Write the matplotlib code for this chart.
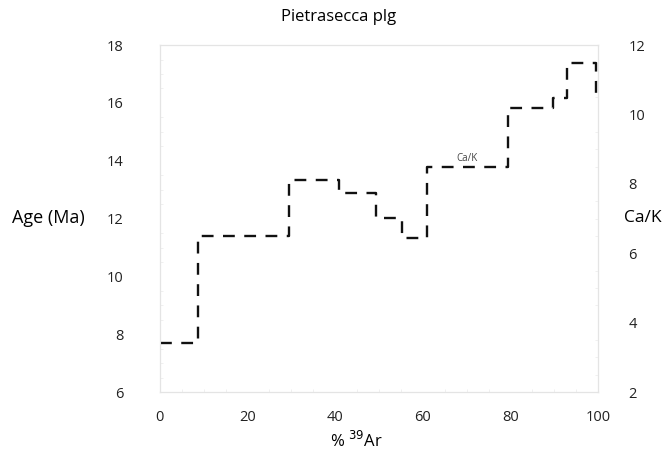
import matplotlib
matplotlib.use("Agg")
import matplotlib.pyplot as plt
from matplotlib.ticker import MultipleLocator

# Step edges (% 39Ar released, cumulative) and Ca/K values per step
ar39_edges = [0, 8.7, 29.5, 40.9, 49.3, 55.3, 61.0, 79.5, 89.7, 92.9, 99.5, 100]
cak_values = [3.41, 6.5, 8.11, 7.73, 7.01, 6.44, 8.48, 10.18, 10.47, 11.48, 10.6]

x_ticks = [0, 20, 40, 60, 80, 100]
age_ticks = [6, 8, 10, 12, 14, 16, 18]
cak_ticks = [2, 4, 6, 8, 10, 12]

plt.rcParams['font.family'] = ['Open Sans', 'DejaVu Sans']

fig = plt.figure(figsize=(6.66, 4.55), dpi=100)
ax = fig.add_axes([0.240, 0.138, 0.658, 0.763])
ax2 = ax.twinx()

ax.set_xlim(0, 100)
ax.set_ylim(6, 18)
ax2.set_ylim(2, 12)

ax.set_xticks(x_ticks)
ax.set_yticks(age_ticks)
ax2.set_yticks(cak_ticks)
ax.yaxis.set_minor_locator(MultipleLocator(0.5))
ax2.yaxis.set_minor_locator(MultipleLocator(0.5))
ax.xaxis.set_minor_locator(MultipleLocator(5))

for a in (ax, ax2):
    for s in a.spines.values():
        s.set_color('#e4e4e4')
        s.set_linewidth(0.8)

ax.tick_params(axis='both', which='major', length=0, labelsize=10.5, colors='#222222')
ax.tick_params(axis='x', which='major', pad=13)
ax.tick_params(axis='y', which='major', pad=26)
ax.tick_params(axis='both', which='minor', direction='in', length=2, color='#eeeeee')
ax2.tick_params(axis='y', which='major', length=0, labelsize=10.5, colors='#222222', pad=22)
ax2.tick_params(axis='y', which='minor', direction='in', length=2, color='#eeeeee')

xs = ar39_edges
ys = cak_values + [cak_values[-1]]
ax2.step(xs, ys, where='post', color='#111111', lw=1.7, linestyle=(0, (5, 4)))

ax2.text(70, 8.74, 'Ca/K', fontsize=7, color='#444444', ha='center', va='center')

fig.text(0.508, 0.962, 'Pietrasecca plg', fontsize=12, ha='center', va='center')
fig.text(0.018, 0.52, 'Age (Ma)', fontsize=13, ha='left', va='center')
fig.text(0.937, 0.52, 'Ca/K', fontsize=12.5, ha='left', va='center')
fig.text(0.535, 0.030, '% $^{39}$Ar', fontsize=12, ha='center', va='center')

fig.savefig('out.png', dpi=100, facecolor='white')
